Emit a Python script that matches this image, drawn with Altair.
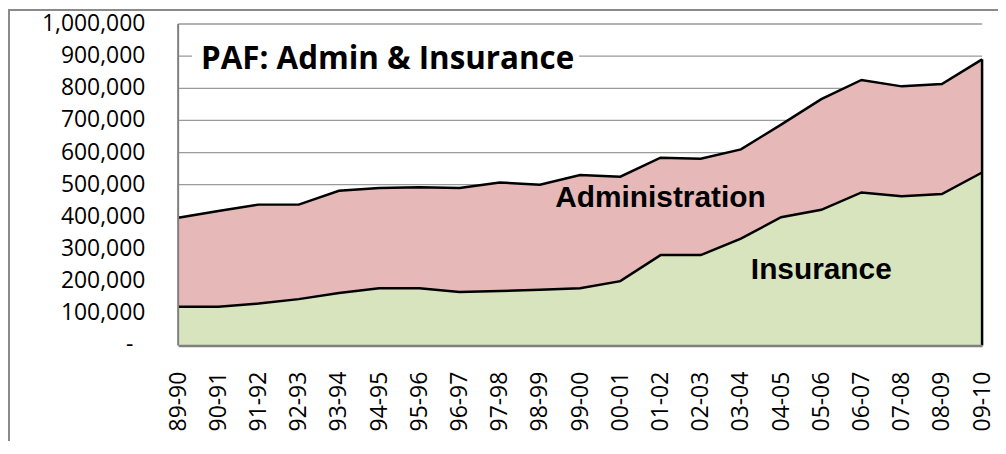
import altair as alt
import pandas as pd

years = ["89-90", "90-91", "91-92", "92-93", "93-94", "94-95", "95-96", "96-97",
         "97-98", "98-99", "99-00", "00-01", "01-02", "02-03", "03-04", "04-05",
         "05-06", "06-07", "07-08", "08-09", "09-10"]
insurance = [120000, 120000, 130000, 144000, 163000, 178000, 178000, 166000,
             169000, 173000, 178000, 200000, 281000, 281000, 332000, 399000,
             422000, 476000, 464000, 471000, 538000]
administration = [277000, 298000, 308000, 294000, 318000, 312000, 314000, 324000,
                  338000, 327000, 352000, 325000, 303000, 300000, 278000, 288000,
                  344000, 350000, 342000, 342000, 352000]

label_years = ["01-02", "05-06"]
label_values = [457000, 235000]
label_texts = ["Administration", "Insurance"]

title_text = "PAF: Admin & Insurance"
y_ticks = [0, 100000, 200000, 300000, 400000, 500000, 600000, 700000, 800000,
           900000, 1000000]
y_labels = ["-", "100,000", "200,000", "300,000", "400,000", "500,000",
            "600,000", "700,000", "800,000", "900,000", "1,000,000"]

PINK = "#E6B8B7"
GREEN = "#D7E4BD"
GRID = "#9a9a9a"
AXIS = "#808080"

df = pd.DataFrame({"year": years, "ins": insurance, "adm": administration})
df["total"] = df["ins"] + df["adm"]
ticks_df = pd.DataFrame({"tick": y_ticks, "label": y_labels})
grid_df = ticks_df[ticks_df["tick"] > 0]
num_df = ticks_df[ticks_df["tick"] > 0]
zero_df = ticks_df[ticks_df["tick"] == 0]

W, H = 808, 323

xenc = alt.X(
    "year:O", sort=years, scale=alt.Scale(type="point", padding=0),
    axis=alt.Axis(labelAngle=-90, labelFont="Open Sans", labelFontSize=23,
                  labelColor="black", labelPadding=26, ticks=False, tickSize=0,
                  domain=True, domainColor=AXIS, domainWidth=2.5, grid=False,
                  title=None, zindex=1, labelOverlap=False),
)
yscale = alt.Scale(domain=[0, 1000000], nice=False)

grid = alt.Chart(grid_df).mark_rule(color=GRID, strokeWidth=1.3).encode(
    y=alt.Y("tick:Q", scale=yscale, axis=None), x=alt.value(0), x2=alt.value(W))
ylabels = alt.Chart(num_df).mark_text(
    font="Open Sans", fontSize=23, color="black", align="right",
    baseline="middle").encode(
    y=alt.Y("tick:Q", scale=yscale, axis=None), x=alt.value(-33), text="label:N")
ylabel0 = alt.Chart(zero_df).mark_text(
    font="Open Sans", fontSize=23, color="black", align="right",
    baseline="middle", dx=-12).encode(
    y=alt.Y("tick:Q", scale=yscale, axis=None), x=alt.value(-33), text="label:N")

base = alt.Chart(df).encode(x=xenc)

adm_area = base.mark_area(color=PINK, opacity=1).encode(
    y=alt.Y("total:Q", scale=yscale, axis=None), y2=alt.Y2("ins:Q"))
ins_area = base.mark_area(color=GREEN, opacity=1).encode(
    y=alt.Y("ins:Q", scale=yscale, axis=None))
ins_line = base.mark_line(color="black", strokeWidth=2.5).encode(
    y=alt.Y("ins:Q", scale=yscale, axis=None))
tot_line = base.mark_line(color="black", strokeWidth=2.5).encode(
    y=alt.Y("total:Q", scale=yscale, axis=None))
right_edge = base.transform_filter(alt.datum.year == years[-1]).transform_calculate(
    zero="0").mark_rule(color="black", strokeWidth=2.5).encode(
    y=alt.Y("total:Q", scale=yscale, axis=None), y2=alt.Y2("zero:Q"))
left_edge = base.transform_filter(alt.datum.year == years[0]).transform_calculate(
    lo="0", hi="1000000").mark_rule(color=AXIS, strokeWidth=2).encode(
    y=alt.Y("lo:Q", scale=yscale, axis=None), y2=alt.Y2("hi:Q"))

labels_df = pd.DataFrame({"year": label_years, "value": label_values, "label": label_texts})
labels = alt.Chart(labels_df).mark_text(
    font="Liberation Sans", fontWeight="bold", fontSize=30, color="black",
    align="center", baseline="middle").encode(
    x=alt.X("year:O", sort=years),
    y=alt.Y("value:Q", scale=yscale, axis=None), text="label:N")

one = pd.DataFrame({"a": [0]})
title_box = alt.Chart(one).mark_rect(color="white").encode(
    x=alt.value(14), x2=alt.value(403), y=alt.value(10), y2=alt.value(57))
title_df = pd.DataFrame({"year": [years[0]], "value": [887000], "label": [title_text]})
title = alt.Chart(title_df).mark_text(
    font="Open Sans", fontWeight="bold", fontSize=31.5, color="black",
    align="left", baseline="middle", dx=23).encode(
    x=alt.X("year:O", sort=years),
    y=alt.Y("value:Q", scale=yscale, axis=None), text="label:N")
border = alt.Chart(one).mark_rect(fillOpacity=0, stroke="#8a8a8a", strokeWidth=2).encode(
    x=alt.value(-170), x2=alt.value(900), y=alt.value(-14), y2=alt.value(600))

chart = alt.layer(
    grid, ylabels, ylabel0, adm_area, ins_area, ins_line, tot_line, right_edge,
    left_edge, labels, title_box, title, border
).properties(
    width=W, height=H,
    autosize=alt.AutoSizeParams(type="none"),
    padding={"left": 171, "top": 15, "right": 16, "bottom": 95},
).configure_view(stroke=None)

chart.save("out.html", embed_options={"renderer": "svg", "actions": False})
